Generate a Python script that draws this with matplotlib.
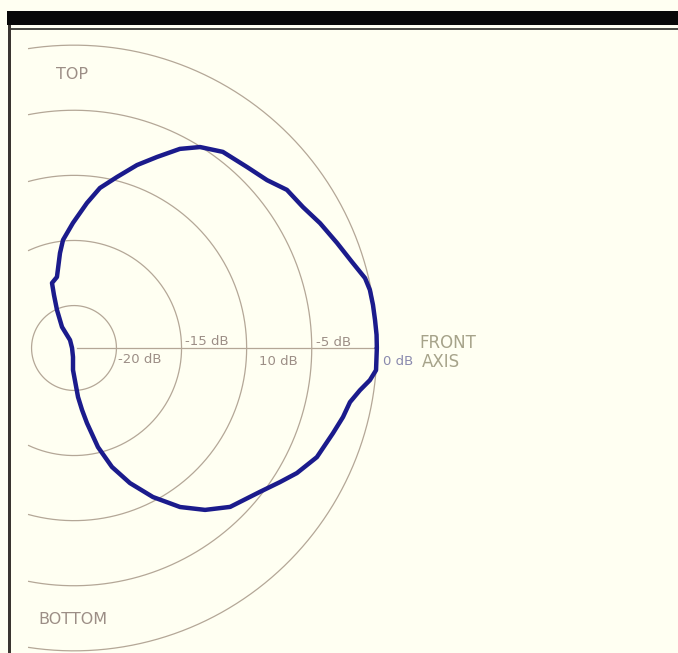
import numpy as np
import matplotlib
matplotlib.use("Agg")
import matplotlib.pyplot as plt
from matplotlib.patches import Rectangle

# Polar response, angle in degrees (0 = front axis, 90 = top, 270 = bottom)
angle_deg = [0.0, 2.5, 5.3, 8.2, 11.1, 13.5, 17.2, 21.8, 26.9, 31.6, 36.6, 41.0,
             46.3, 52.8, 57.9, 62.0, 66.5, 71.0, 75.9, 80.8, 84.9, 90.5, 95.8,
             98.4, 103.5, 108.7, 110.7, 114.1, 119.7, 116.6, 180.0, 263.7, 267.4,
             274.7, 277.4, 279.8, 283.6, 287.7, 292.5, 297.9, 303.7, 309.0, 314.5,
             322.3, 326.9, 330.7, 335.8, 341.8, 345.6, 348.9, 351.6, 353.8, 355.8,
             360.0]
level_db = [0.0, 0.0, -0.04, -0.06, -0.10, -0.27, -0.91, -1.51, -2.07, -2.61,
            -2.89, -3.61, -4.03, -4.35, -5.04, -5.94, -7.26, -8.40, -9.72, -10.81,
            -12.08, -13.66, -14.92, -15.89, -17.65, -17.99, -18.91, -20.06, -21.40,
            -22.58, -23.11, -22.56, -21.57, -19.48, -18.46, -17.41, -15.43, -13.67,
            -12.03, -10.31, -8.58, -7.26, -6.15, -5.20, -4.39, -3.63, -2.81, -2.32,
            -1.93, -1.66, -1.06, -0.40, 0.0, 0.0]

ring_db = [-20, -15, -10, -5, 0]
ring_labels = ["-20 dB", "-15 dB", "10 dB", "-5 dB", "0 dB"]

R_ORIGIN = -23.26      # level at the pole
R_TOP = 1.0            # outer limit of the polar axes
PX_PER_DB = 13.02
CLIP_X = -3.53         # left cut of the rings, in dB units from the pole

W, H = 678, 653
BG = "#fffff2"
RING = "#b4a797"
TEXT = "#9c8e86"

fig = plt.figure(figsize=(W / 100, H / 100), dpi=100, facecolor=BG)

cx, cy = 74, H - 348
rad_px = (R_TOP - R_ORIGIN) * PX_PER_DB
ax = fig.add_axes([(cx - rad_px) / W, (cy - rad_px) / H, 2 * rad_px / W, 2 * rad_px / H],
                  projection="polar")
ax.set_facecolor("none")
ax.patch.set_visible(False)
ax.spines["polar"].set_visible(False)
ax.grid(False)
ax.set_xticks([])
ax.set_yticks([])
ax.set_rlim(R_ORIGIN, R_TOP)

# rings, cut off on the left side
for lvl in ring_db:
    rho = lvl - R_ORIGIN
    c = CLIP_X / rho
    tmax = np.pi if c <= -1 else np.arccos(c)
    th = np.linspace(-tmax, tmax, 600)
    ax.plot(th, np.full_like(th, lvl), color=RING, lw=0.9, solid_capstyle="butt")

# front axis line
ax.plot([0, 0], [R_ORIGIN + 0.25, 0], color=RING, lw=0.9)

# response curve
ax.plot(np.deg2rad(angle_deg), level_db, color="#1b1b8c", lw=3.2,
        solid_joinstyle="round", solid_capstyle="round")

# labels (pixel positions from top-left)
def ptext(x, y, s, **kw):
    fig.text(x / W, 1 - y / H, s, ha="left", va="baseline", **kw)

label_pos = [(118, 363), (185, 345), (259, 365), (316, 346), (383, 365)]
label_col = [TEXT, TEXT, TEXT, TEXT, "#8a8aae"]
for (x, y), s, c in zip(label_pos, ring_labels, label_col):
    ptext(x, y, s, fontsize=9.5, color=c)

ptext(419, 348, "FRONT", fontsize=12, color="#a6a38a")
ptext(422, 367, "AXIS", fontsize=12, color="#a6a38a")
ptext(56, 79, "TOP", fontsize=11.5, color=TEXT)
ptext(38, 624, "BOTTOM", fontsize=11.5, color=TEXT)

# frame
def prect(x0, y0, x1, y1, color):
    fig.add_artist(Rectangle((x0 / W, 1 - y1 / H), (x1 - x0) / W, (y1 - y0) / H,
                             transform=fig.transFigure, color=color, lw=0, zorder=5))

prect(7, 11, W, 25, "#080808")
prect(9, 28, W, 30, "#4a4a44")
prect(8, 25, 11, H, "#3a3530")

fig.savefig("out.png", dpi=100, facecolor=BG)
